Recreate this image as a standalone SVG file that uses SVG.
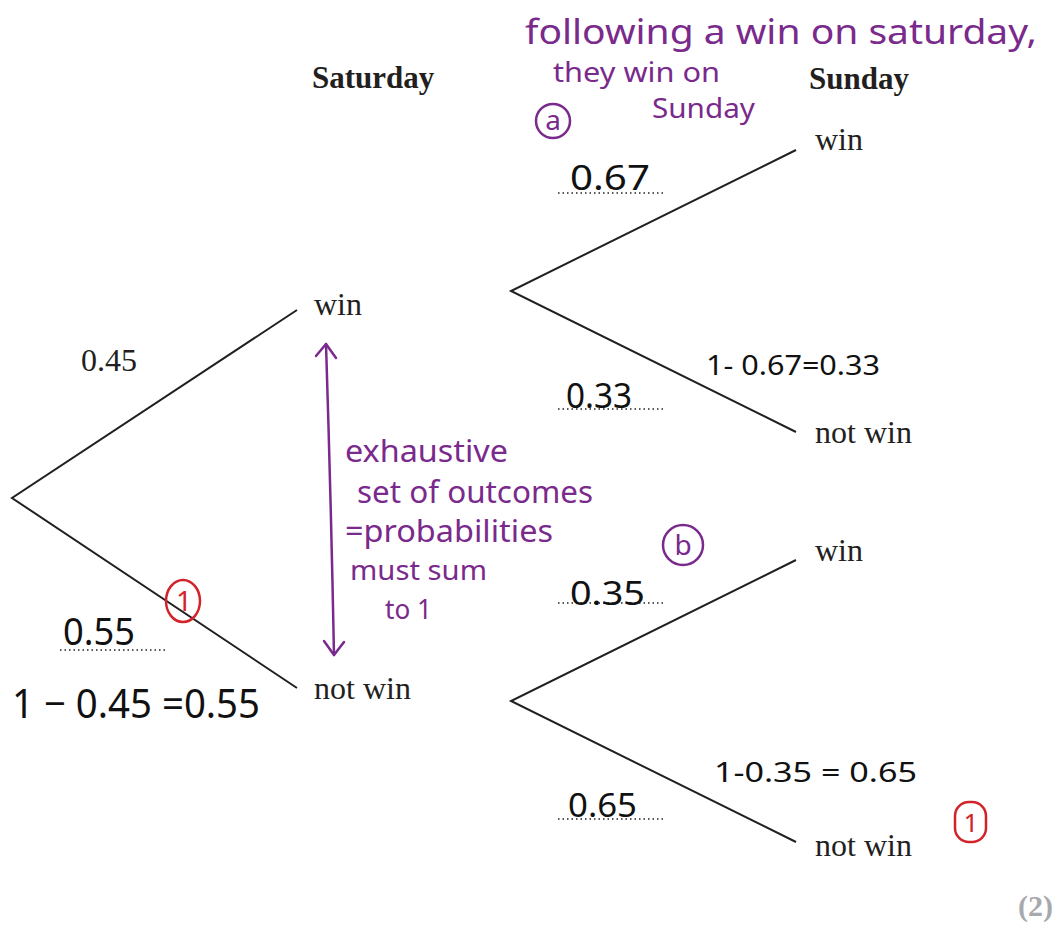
<svg xmlns="http://www.w3.org/2000/svg" width="1055" height="926" viewBox="0 0 1055 926">
<style>
.lbl{font-family:"Liberation Serif","Times New Roman",serif;font-size:32px;fill:#231f20}
.hd{font-family:"Liberation Serif","Times New Roman",serif;font-size:31px;font-weight:bold;fill:#231f20}
.br{stroke:#231f20;stroke-width:2;fill:none}
.dot{stroke:#231f20;stroke-width:1.3;stroke-dasharray:1.5 3;fill:none}
.hw{font-family:"Noto Sans","DejaVu Sans",sans-serif;font-weight:400;fill:#111}
.pu{font-family:"Noto Sans","DejaVu Sans",sans-serif;font-weight:400;fill:#7a2a8c}
.pl{stroke:#7a2a8c;stroke-width:2.5;fill:none;stroke-linecap:round;stroke-linejoin:round}
.rd{stroke:#d2232a;stroke-width:2.5;fill:none}
.rt{font-family:"Noto Sans","DejaVu Sans",sans-serif;font-weight:400;fill:#d2232a}
</style>
<rect width="1055" height="926" fill="#fff"/>
<g id="connectors">
<path class="br" d="M297 310 L12 498 L297 688"/>
<path class="br" d="M796 150 L511 291 L796 432"/>
<path class="br" d="M796 560 L511 701 L796 842"/>
</g>
<g id="headers">
<text class="hd" x="312" y="88">Saturday</text>
<text class="hd" x="809" y="89">Sunday</text>
</g>
<g id="node-sat-win"><text class="lbl" x="314" y="315">win</text></g>
<g id="node-sat-notwin"><text class="lbl" x="314" y="699">not win</text></g>
<g id="node-sun-win1"><text class="lbl" x="815" y="150">win</text></g>
<g id="node-sun-notwin1"><text class="lbl" x="815" y="443">not win</text></g>
<g id="node-sun-win2"><text class="lbl" x="815" y="561">win</text></g>
<g id="node-sun-notwin2"><text class="lbl" x="815" y="856">not win</text></g>
<g id="prob-labels">
<text class="lbl" x="81" y="371" font-size="30">0.45</text>
<path class="dot" d="M60 650 H168"/>
<path class="dot" d="M558 193 H666"/>
<path class="dot" d="M558 409 H666"/>
<path class="dot" d="M558 603 H666"/>
<path class="dot" d="M558 819 H666"/>
<text class="hw" x="63" y="645" font-size="38" textLength="72" lengthAdjust="spacingAndGlyphs">0.55</text>
<text class="hw" x="12" y="718" font-size="40" textLength="248" lengthAdjust="spacingAndGlyphs">1 − 0.45 =0.55</text>
<text class="hw" x="570" y="190" font-size="34" textLength="80" lengthAdjust="spacingAndGlyphs">0.67</text>
<text class="hw" x="566" y="408" font-size="34" textLength="66" lengthAdjust="spacingAndGlyphs">0.33</text>
<text class="hw" x="706" y="375" font-size="28" textLength="174" lengthAdjust="spacingAndGlyphs">1- 0.67=0.33</text>
<text class="hw" x="570" y="605" font-size="32" textLength="75" lengthAdjust="spacingAndGlyphs">0.35</text>
<text class="hw" x="714" y="782" font-size="28" textLength="203" lengthAdjust="spacingAndGlyphs">1-0.35 = 0.65</text>
<text class="hw" x="568" y="817" font-size="32" textLength="69" lengthAdjust="spacingAndGlyphs">0.65</text>
</g>
<g id="annotations">
<text class="pu" x="525" y="44" font-size="34" textLength="512" lengthAdjust="spacingAndGlyphs">following a win on saturday,</text>
<text class="pu" x="553" y="82" font-size="27" textLength="167" lengthAdjust="spacingAndGlyphs">they win on</text>
<text class="pu" x="652" y="118" font-size="28" textLength="103" lengthAdjust="spacingAndGlyphs">Sunday</text>
<circle class="pl" cx="553" cy="121" r="17"/>
<text class="pu" x="553" y="130" font-size="28" text-anchor="middle">a</text>
<circle class="pl" cx="683" cy="545" r="20"/>
<text class="pu" x="683" y="555" font-size="28" text-anchor="middle">b</text>
<path class="pl" d="M326 344 Q331 500 334 655"/>
<path class="pl" d="M316 356 L326 344 L336 358"/>
<path class="pl" d="M324 641 L334 655 L344 642"/>
<text class="pu" x="345" y="462" font-size="30" textLength="163" lengthAdjust="spacingAndGlyphs">exhaustive</text>
<text class="pu" x="357" y="503" font-size="30" textLength="236" lengthAdjust="spacingAndGlyphs">set of outcomes</text>
<text class="pu" x="345" y="542" font-size="30" textLength="208" lengthAdjust="spacingAndGlyphs">=probabilities</text>
<text class="pu" x="350" y="580" font-size="28" textLength="137" lengthAdjust="spacingAndGlyphs">must sum</text>
<text class="pu" x="385" y="619" font-size="28" textLength="47" lengthAdjust="spacingAndGlyphs">to 1</text>
<ellipse class="rd" cx="183" cy="601" rx="17" ry="21"/>
<text class="rt" x="184" y="611" font-size="28" text-anchor="middle">1</text>
<rect class="rd" x="955" y="802" width="31" height="40" rx="14"/>
<text class="rt" x="971" y="832" font-size="26" text-anchor="middle">1</text>
</g>
<text x="1053" y="916" text-anchor="end" font-family="Liberation Serif,serif" font-size="30" font-weight="bold" fill="#a7a9ac">(2)</text>
</svg>
